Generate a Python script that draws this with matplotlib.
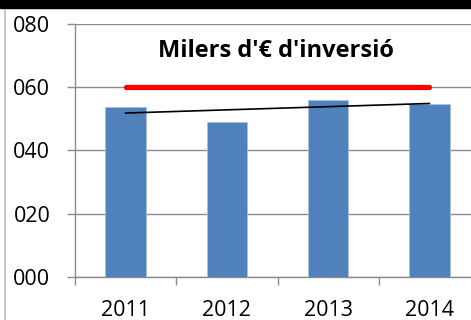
import numpy as np
import matplotlib.pyplot as plt
from matplotlib.patches import Rectangle
from matplotlib.lines import Line2D

years = ["2011", "2012", "2013", "2014"]
investment = [53.6, 49.1, 55.9, 54.7]
target = 60
y_ticks = [0, 20, 40, 60, 80]
y_labels = ["000", "020", "040", "060", "080"]
title = "Milers d'€ d'inversió"

W, H = 471, 320
fig = plt.figure(figsize=(W / 100, H / 100), dpi=100)
plt.rcParams["font.family"] = ["Open Sans", "DejaVu Sans"]

grey = "#8c8c8c"
ax = fig.add_axes([75 / W, 43.3 / H, 405 / W, 252.7 / H])
x = np.arange(len(years))

ax.bar(x, investment, width=0.4, color="#4f81bd", edgecolor="#a9c0dd",
       linewidth=0.6, zorder=3)

# target line across the four years
ax.plot([x[0], x[-1]], [target, target], color="#ff0000", lw=3.8,
        solid_capstyle="round", zorder=4)

# linear trend of the bars
slope, icpt = np.polyfit(x, investment, 1)
ax.plot([x[0], x[-1]], [icpt, icpt + slope * x[-1]], color="black", lw=1.2,
        zorder=5)

ax.set_xlim(-0.5, len(years) - 0.5)
ax.set_ylim(0, 80)
ax.set_yticks(y_ticks)
ax.set_yticklabels(y_labels)
ax.set_xticks(x)
ax.set_xticklabels(years)
ax.set_xticks(np.arange(-0.5, len(years)), minor=True)

ax.yaxis.grid(True, color=grey, lw=1.0, zorder=0)
ax.set_axisbelow(True)
for s in ["top", "right"]:
    ax.spines[s].set_visible(False)
for s in ["left", "bottom"]:
    ax.spines[s].set_color(grey)
    ax.spines[s].set_linewidth(1.0)

ax.tick_params(axis="y", length=5.8, color=grey, width=1.0, pad=12,
               labelsize=15.5)
ax.tick_params(axis="x", which="major", length=0, pad=17, labelsize=15.5)
ax.tick_params(axis="x", which="minor", length=5.8, color=grey, width=1.0)

fig.text(158 / W, 1 - 57 / H, title, fontsize=17, fontweight="bold",
         ha="left", va="baseline")

# chart frame bits: dark band along the top and thin left border
fig.add_artist(Rectangle((0, 1 - 7.5 / H), 1, 7.5 / H, transform=fig.transFigure,
                         color="black", zorder=10))
fig.add_artist(Line2D([5 / W, 5 / W], [0, 1 - 7.5 / H], transform=fig.transFigure,
                      color="#bfbfbf", lw=1.2))

fig.savefig("out.png", dpi=100)
